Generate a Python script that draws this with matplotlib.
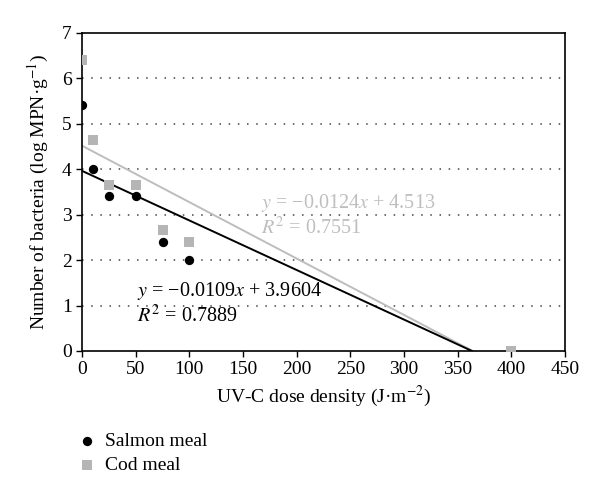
import matplotlib
matplotlib.use("Agg")
import matplotlib.pyplot as plt
import numpy as np

dose = [0, 10, 25, 50, 75, 100, 400]
salmon = [5.4, 4.0, 3.4, 3.4, 2.4, 2.0, 0.0]
cod = [6.4, 4.65, 3.65, 3.65, 2.65, 2.4, 0.0]
salmon_fit = (-0.0109, 3.9604)
cod_fit = (-0.0124, 4.513)

plt.rcParams['font.serif'] = ['Liberation Serif', 'DejaVu Serif']
plt.rcParams['font.family'] = 'serif'
plt.rcParams['mathtext.fontset'] = 'stix'

GRAY = '#b5b5b5'
fig = plt.figure(figsize=(6, 4.99), dpi=100)
ax = fig.add_axes([0.1367, 0.2966, 0.805, 0.638])

for (m, b), col in [(cod_fit, '#bdbdbd'), (salmon_fit, 'black')]:
    x_end = -b / m
    xs = np.array([0, x_end])
    ax.plot(xs, m * xs + b, color=col, lw=1.4, zorder=2)

ax.scatter(dose, cod, marker='s', s=42, color=GRAY, zorder=3, linewidths=0, label='Cod meal')
ax.scatter(dose[:-1], salmon[:-1], marker='o', s=45, color='black', zorder=4, linewidths=0, label='Salmon meal')

ax.set_xlim(0, 450)
ax.set_ylim(0, 7)
ax.set_xticks(range(0, 451, 50))
ax.set_yticks(range(0, 8))
ax.tick_params(labelsize=14, direction='out', length=4, width=1, colors='black')
for s in ax.spines.values():
    s.set_linewidth(1.2)
for yv in range(1, 7):
    ax.axhline(yv, color='#444444', lw=1.1, ls=(0, (1, 5)), zorder=1)

ax.set_xlabel('UV-C dose density (J·m$^{-2}$)', fontsize=14, labelpad=4)
ax.set_ylabel('Number of bacteria (log MPN·g$^{-1}$)', fontsize=14, labelpad=8)

ax.text(51, 1.21, '$y$ = −0.0109$x$ + 3.9604', fontsize=14.5, color='black')
ax.text(51, 0.63, '$R^2$ = 0.7889', fontsize=14.5, color='black')
ax.text(167, 3.15, '$y$ = −0.0124$x$ + 4.513', fontsize=14.5, color='#bfbfbf')
ax.text(167, 2.57, '$R^2$ = 0.7551', fontsize=14.5, color='#bfbfbf')

h, l = ax.get_legend_handles_labels()
leg = ax.legend(h[::-1], l[::-1], loc='upper left', bbox_to_anchor=(0.10, 0.168),
                bbox_transform=fig.transFigure, frameon=False,
                prop={'family': 'serif', 'size': 14},
                handletextpad=0.4, labelspacing=0.3, handlelength=1.0)

# Re-draw legend labels as serif figure texts at the same place
fig.canvas.draw()
inv = fig.transFigure.inverted()
for t in leg.get_texts():
    bb = t.get_window_extent()
    x0, y0 = inv.transform((bb.x0, (bb.y0 + bb.y1) / 2))
    fig.text(x0, y0, t.get_text(), fontsize=14, ha='left', va='center')
    t.set_alpha(0)
    t.set_color('none')

fig.savefig('out.png', dpi=100)
